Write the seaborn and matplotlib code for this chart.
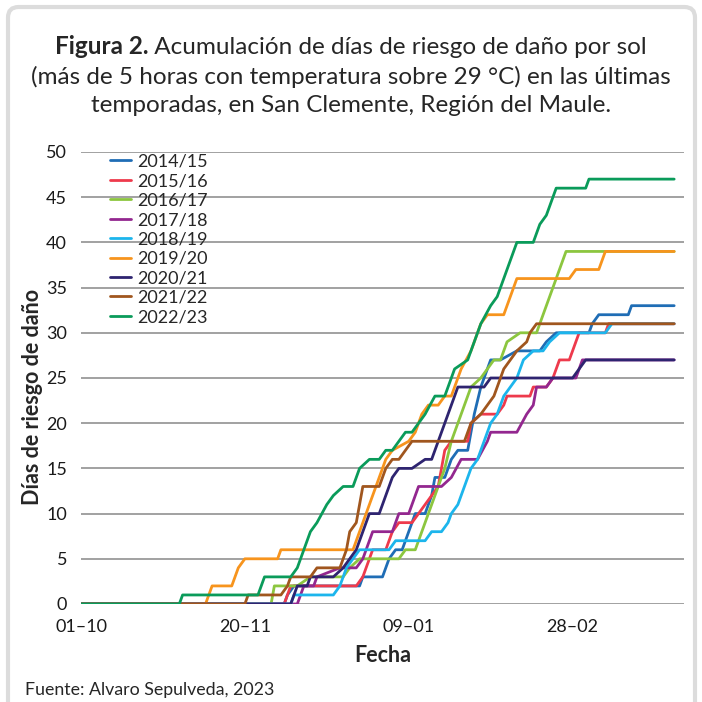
import pandas as pd
import matplotlib
matplotlib.use("Agg")
import matplotlib.pyplot as plt
from matplotlib.patches import FancyBboxPatch
import seaborn as sns

# ── Data: (day since 01-10, accumulated days) ───────────
s1415 = [(0, 0), (62, 0), (63, 1), (65, 2), (85, 2), (86, 3), (92, 3), (94, 5), (96, 6), (98, 6),
         (100, 8), (102, 10), (105, 10), (107, 12), (108, 14), (111, 14), (113, 16), (115, 17),
         (118, 17), (120, 21), (122, 24), (123, 25), (125, 27), (128, 27), (133, 28), (140, 28),
         (142, 29), (145, 30), (155, 30), (156, 31), (158, 32), (167, 32), (168, 33), (181, 33)]
s1516 = [(0, 0), (62, 0), (63, 1), (64, 2), (84, 2), (86, 3), (88, 5), (89, 6), (93, 6), (95, 8),
         (97, 9), (101, 9), (103, 10), (105, 11), (107, 12), (109, 13), (110, 15), (111, 17),
         (113, 18), (118, 18), (119, 20), (122, 21), (127, 21), (129, 22), (130, 23), (137, 23),
         (138, 24), (142, 24), (144, 25), (146, 27), (149, 27), (151, 29), (152, 30), (160, 30),
         (161, 31), (181, 31)]
s1617 = [(0, 0), (58, 0), (59, 2), (66, 2), (70, 3), (80, 3), (82, 4), (85, 5), (97, 5), (99, 6),
         (102, 6), (104, 8), (105, 9), (107, 11), (109, 13), (111, 15), (113, 18), (115, 20),
         (117, 22), (119, 24), (122, 25), (126, 27), (128, 27), (130, 29), (134, 30), (139, 30),
         (142, 33), (145, 36), (148, 39), (181, 39)]
s1718 = [(0, 0), (66, 0), (67, 1), (68, 2), (71, 2), (72, 3), (79, 4), (84, 4), (86, 5), (89, 8),
         (95, 8), (97, 10), (100, 10), (103, 13), (110, 13), (113, 14), (116, 16), (121, 16),
         (124, 18), (125, 19), (133, 19), (136, 21), (138, 22), (139, 24), (142, 24), (144, 25),
         (151, 25), (152, 26), (153, 27), (181, 27)]
s1819 = [(0, 0), (64, 0), (65, 1), (77, 1), (79, 2), (81, 4), (83, 5), (85, 6), (94, 6), (96, 7),
         (105, 7), (107, 8), (110, 8), (112, 9), (113, 10), (115, 11), (117, 13), (119, 15),
         (121, 16), (123, 18), (125, 20), (127, 21), (129, 23), (133, 25), (135, 27), (138, 28),
         (141, 28), (143, 29), (146, 30), (160, 30), (162, 31), (181, 31)]
s1920 = [(0, 0), (38, 0), (40, 2), (46, 2), (48, 4), (50, 5), (60, 5), (61, 6), (83, 6), (85, 8),
         (87, 10), (89, 12), (91, 14), (93, 16), (95, 17), (100, 18), (102, 19), (104, 21),
         (106, 22), (109, 22), (111, 23), (113, 23), (116, 26), (119, 28), (122, 31), (124, 32),
         (129, 32), (133, 36), (149, 36), (151, 37), (158, 37), (160, 39), (181, 39)]
s2021 = [(0, 0), (64, 0), (65, 1), (66, 2), (69, 2), (70, 3), (77, 3), (80, 4), (82, 5), (84, 6),
         (86, 8), (88, 10), (91, 10), (93, 12), (95, 14), (97, 15), (101, 15), (105, 16),
         (107, 16), (109, 18), (111, 20), (113, 22), (115, 24), (123, 24), (125, 25), (150, 25),
         (152, 26), (154, 27), (181, 27)]
s2122 = [(0, 0), (50, 0), (51, 1), (61, 1), (63, 2), (64, 3), (70, 3), (72, 4), (79, 4), (81, 6),
         (82, 8), (84, 9), (85, 11), (86, 13), (91, 13), (93, 15), (95, 16), (97, 16), (99, 17),
         (101, 18), (117, 18), (119, 20), (122, 21), (124, 22), (126, 23), (127, 24), (129, 26),
         (131, 27), (133, 28), (136, 29), (137, 30), (139, 31), (181, 31)]
s2223 = [(0, 0), (30, 0), (31, 1), (54, 1), (56, 3), (64, 3), (66, 4), (68, 6), (70, 8), (72, 9),
         (75, 11), (77, 12), (80, 13), (83, 13), (85, 15), (88, 16), (91, 16), (93, 17), (95, 17),
         (97, 18), (99, 19), (101, 19), (103, 20), (105, 21), (108, 23), (111, 23), (113, 25),
         (114, 26), (118, 27), (120, 29), (122, 31), (125, 33), (127, 34), (129, 36), (130, 37),
         (132, 39), (133, 40), (138, 40), (140, 42), (142, 43), (143, 44), (145, 46), (154, 46),
         (155, 47), (181, 47)]

seasons = ["2014/15", "2015/16", "2016/17", "2017/18", "2018/19",
           "2019/20", "2020/21", "2021/22", "2022/23"]
series = [s1415, s1516, s1617, s1718, s1819, s1920, s2021, s2122, s2223]
colors = ["#1f6db5", "#ee3a4c", "#8cc63f", "#93278f", "#1cb5ec",
          "#f7941d", "#2e2470", "#a0561e", "#0a9b5a"]

tick_pos = [0, 50, 100, 150]
tick_labels = ["01–10", "20–11", "09–01", "28–02"]

rows = []
for name, pts in zip(seasons, series):
    for d, v in pts:
        rows.append({"dia": d, "valor": v, "temporada": name})
df = pd.DataFrame(rows)

# ── Plot ────────────────────────────────────────────────
sns.set_theme(style="white")
plt.rcParams['font.family'] = ['Lato', 'DejaVu Sans']

fig = plt.figure(figsize=(7.02, 7.02), dpi=100)
fig.patch.set_facecolor("white")
ax = fig.add_axes([81 / 702, 1 - 604 / 702, (684 - 81) / 702, (604 - 152) / 702])

sns.lineplot(data=df, x="dia", y="valor", hue="temporada", hue_order=seasons,
             palette=dict(zip(seasons, colors)), estimator=None, sort=False,
             linewidth=2.0, ax=ax)

ax.set_xlim(0, 184)
ax.set_ylim(0, 50)
ax.set_yticks(range(0, 51, 5))
ax.set_xticks(tick_pos)
ax.set_xticklabels(tick_labels)
ax.yaxis.grid(True, color="#9a9a9a", linewidth=1.3)
ax.set_axisbelow(True)
for s in ax.spines.values():
    s.set_visible(False)
ax.tick_params(axis="both", length=0, labelsize=13, colors="#1a1a1a")
ax.tick_params(axis="x", pad=11)
ax.tick_params(axis="y", pad=10)
ax.set_xlabel("Fecha", fontsize=15.5, fontweight="bold", labelpad=7)
ax.set_ylabel("")
fig.text(33 / 702, 1 - 397 / 702, "Días de riesgo de daño", rotation=90,
         fontsize=15.5, fontweight="bold", ha="center", va="center")

leg = ax.legend(loc="upper left", bbox_to_anchor=(0.03, 1.02), frameon=False,
                fontsize=13, handlelength=1.15, labelspacing=0.19, handletextpad=0.35,
                borderaxespad=0.2)
for line in leg.get_lines():
    line.set_linewidth(2.0)

# title: bold lead-in + regular text on the first line
tsize = 17.5
r = fig.canvas.get_renderer()
t_bold = fig.text(0, 1 - 47 / 702, "Figura 2.", fontsize=tsize, fontweight="bold",
                  ha="left", va="center")
t_rest = fig.text(0, 1 - 47 / 702, " Acumulación de días de riesgo de daño por sol",
                  fontsize=tsize, ha="left", va="center")
wb = t_bold.get_window_extent(r).width
wr = t_rest.get_window_extent(r).width
x0 = (702 - wb - wr) / 2
t_bold.set_x(x0 / 702)
t_rest.set_x((x0 + wb) / 702)
fig.text(0.5, 1 - 77 / 702, "(más de 5 horas con temperatura sobre 29 °C) en las últimas",
         ha="center", va="center", fontsize=tsize)
fig.text(0.5, 1 - 106 / 702, "temporadas, en San Clemente, Región del Maule.",
         ha="center", va="center", fontsize=tsize)
fig.text(25 / 702, 1 - 690 / 702, "Fuente: Alvaro Sepulveda, 2023",
         ha="left", va="center", fontsize=12.8)

border = FancyBboxPatch((8 / 702, -0.05), 687 / 702, 1.04, transform=fig.transFigure,
                        boxstyle="round,pad=0,rounding_size=0.015", facecolor="none",
                        edgecolor="#dcdcdc", linewidth=3, zorder=-1)
fig.patches.append(border)

plt.savefig("out.png", dpi=100, facecolor="white")
